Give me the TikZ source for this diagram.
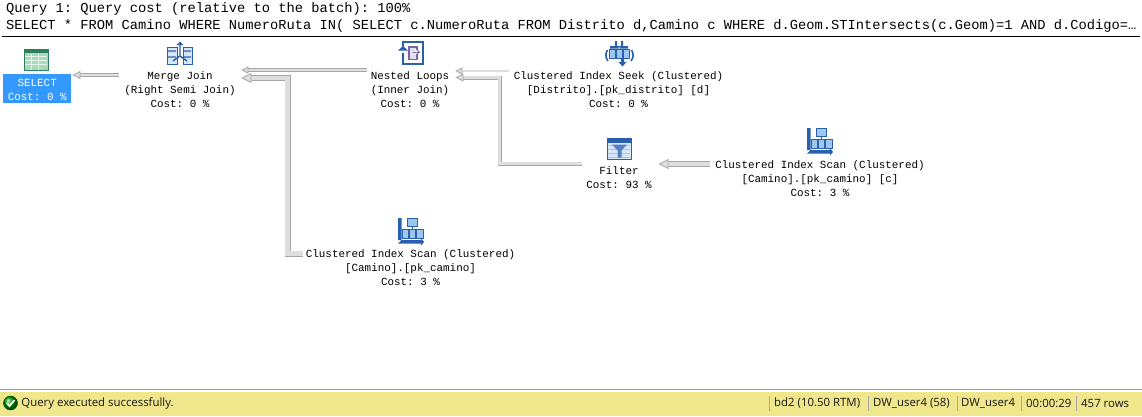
\documentclass[tikz,border=0pt]{standalone}
\usepackage{fontspec}
\setmainfont{Open Sans}
\newfontfamily\planfamily{Liberation Mono}
\usetikzlibrary{arrows.meta,positioning,calc}
\frenchspacing
\definecolor{flowedge}{HTML}{A6A6A6}
\definecolor{flowfill}{HTML}{DEDEDE}
\definecolor{selectblue}{HTML}{3399FF}
\definecolor{barkhaki}{HTML}{F0E68C}
\definecolor{iconblue}{HTML}{2A5FB0}
\definecolor{iconlight}{HTML}{9CC8EE}
\definecolor{icongreen}{HTML}{2F7F5F}
\definecolor{iconmint}{HTML}{A9D9BB}
\definecolor{iconpurple}{HTML}{7A64A8}
\tikzset{
    planop/.style={anchor=north, align=center, inner sep=0pt, execute at begin node=\strut, font=\planfamily\fontsize{10.9}{13.7}\selectfont},
    selectop/.style={planop, anchor=north west, fill=selectblue, text=white, minimum width=68pt},
    header/.style={anchor=west, inner sep=0pt, font=\planfamily\fontsize{13.75}{16}\selectfont},
    status/.style={anchor=west, inner sep=0pt, font=\fontsize{11.4}{14}\selectfont, text=black!90},
    barsep/.style={draw=black!35, line width=0.8pt},
    flow/.style={draw=flowedge, line width=0.8pt, double=flowfill, double distance=#1, line join=miter},
    tipin/.style={-{Triangle[length=#1, width=#1, fill=flowfill, color=flowedge, line width=0.8pt]}},
    box/.style={draw=iconblue, fill=iconlight, line width=1pt},
    scanicon/.pic={
        \fill[iconblue] (-13,-13) rectangle (-9.5,9) -- (10,9) -- (10,7) -- (13,11) -- (10,14.5) -- (10,12.5) -- (-13,12.5) -- cycle;
        \draw[box] (-4,-13) rectangle (6,-5);
        \draw[iconblue, line width=1pt] (1,-5) -- (1,-2);
        \draw[box] (-9,-2) rectangle (-3,7);
        \draw[box] (-2,-2) rectangle (4,7);
        \draw[box] (5,-2) rectangle (12,7);
    },
    seekicon/.pic={
        \fill[iconblue] (-4,-12) rectangle (-2,-6) (2,-12) rectangle (4,-6) (-9,-7) rectangle (9,-4.5);
        \draw[iconblue, line width=1.6pt] (-11.5,-3) to [bend right=35] (-11,8) (12.5,-3) to [bend left=35] (12,8);
        \draw[box] (-10,-4) rectangle (-4,5);
        \draw[box] (-3,-4) rectangle (3,5);
        \draw[box] (4,-4) rectangle (10,5);
        \fill[yellow!80!green] (0,-5) circle (1);
        \fill[iconblue] (2,5) rectangle (5,9) -- (7.5,9) -- (3.5,13.5) -- (-0.5,9) -- (2,9) -- cycle;
    },
    mergeicon/.pic={
        \draw[box, fill=iconlight!40] (-13,-6) rectangle (-3,11);
        \draw[box, fill=iconlight!40] (3,-6) rectangle (12,11);
        \fill[iconblue!70] (-12,-3) rectangle (-4,-1) (-12,3) rectangle (-4,5) (4,-3) rectangle (11,-1) (4,3) rectangle (11,5);
        \draw[iconblue, line width=1.4pt] (0,-9) -- (0,3) (-7,8) -- (0,3) -- (7,8);
        \fill[iconblue] (-3.5,-8) -- (0,-11.5) -- (3.5,-8) -- cycle;
    },
    loopicon/.pic={
        \draw[iconblue, line width=1.8pt] (-7,-4) -- (-7,-11) -- (13,-11) -- (13,11) -- (-7,11) -- (-7,0);
        \fill[iconblue] (-12,-2.5) -- (-7,-7) -- (-2,-2.5) -- cycle;
        \draw[iconpurple, fill=iconpurple!20, line width=1.8pt] (-1,-6) rectangle (7,6.5);
        \fill[white] (5,-3) rectangle (9.5,1);
        \draw[iconpurple, line width=0.9pt, ->] (3,-1) -- (10,-1);
    },
    filtericon/.pic={
        \fill[iconlight!40] (-12,-10) rectangle (12,11);
        \fill[iconblue] (-12,-10) rectangle (12,-6);
        \draw[iconblue, line width=0.8pt] (-12,-10) rectangle (12,11);
        \foreach \row in {-3,1,5,9}
            \draw[iconlight, line width=1.2pt] (-11,\row) -- (11,\row);
        \fill[iconblue!80] (-7,-4) -- (8,-4) -- (2.5,2) -- (2.5,9) -- (-1.5,9) -- (-1.5,2) -- cycle;
    },
    tableicon/.pic={
        \fill[iconmint] (-12,-10) rectangle (12,11);
        \fill[icongreen] (-12,-10) rectangle (12,-7);
        \draw[icongreen, line width=0.6pt] (-12,-10) rectangle (12,11);
        \foreach \row in {-3,1,5}
            \draw[white!70!iconmint, line width=0.8pt] (-11,\row) -- (11,\row);
        \foreach \col in {-5,2}
            \draw[white!70!iconmint, line width=0.8pt] (\col,-6) -- (\col,10);
    }
}

\begin{document}
\begin{tikzpicture}[x=1pt, y=-1pt]
    \useasboundingbox[fill=white] (0,0) rectangle (1142,416);

    % Query header
    \node[header] (query) at (6,9) {Query 1: Query cost (relative to the batch): 100\%};
    \node[header] (sql) at (6,26) {SELECT * FROM Camino WHERE NumeroRuta IN( SELECT c.NumeroRuta FROM Distrito d,Camino c WHERE d.Geom.STIntersects(c.Geom)=1 AND d.Codigo=…};
    \draw[black, line width=1pt] (2,36) -- (1140,36);

    % Plan operators
    \node[selectop] (select) at (3,74) {\rule{0pt}{12pt}SELECT\\[0.8pt]Cost: 0 \%\par\vspace{-2pt}};
    \node[planop] (merge) at (180,71.5) {Merge Join\\(Right Semi Join)\\Cost: 0 \%};
    \node[planop] (loops) at (410,71.5) {Nested Loops\\(Inner Join)\\Cost: 0 \%};
    \node[planop] (seek) at (618.5,71.5) {Clustered Index Seek (Clustered)\\{[}Distrito{]}.{[}pk\_distrito{]} {[}d{]}\\Cost: 0 \%};
    \node[planop] (filter) at (619,166.5) {Filter\\Cost: 93 \%};
    \node[planop] (scanc) at (820,160.5) {Clustered Index Scan (Clustered)\\{[}Camino{]}.{[}pk\_camino{]} {[}c{]}\\Cost: 3 \%};
    \node[planop] (scan) at (410.5,249.5) {Clustered Index Scan (Clustered)\\{[}Camino{]}.{[}pk\_camino{]}\\Cost: 3 \%};

    % Icons
    \pic at (36,59.5) {tableicon};
    \pic at (180,53) {mergeicon};
    \pic at (410,53) {loopicon};
    \pic at (619,53) {seekicon};
    \pic at (619,148.5) {filtericon};
    \pic at (820,141) {scanicon};
    \pic at (411,231) {scanicon};

    % Connectors
    \draw[flow=2.6pt, tipin=8pt] ([xshift=-5.5pt,yshift=-3.5pt]merge.north west) -- ([xshift=1pt,yshift=-1pt]select.north east);
    \draw[flow=1.6pt, tipin=7pt] ([xshift=-4pt,yshift=1.5pt]loops.north west) -- ([xshift=5.5pt,yshift=1.5pt]merge.north east);
    \draw[flow=4.4pt, tipin=10pt] ([xshift=-3pt,yshift=-4pt]scan.north west) -- ++(-15,0) |- ([xshift=5.5pt,yshift=-6.5pt]merge.north east);
    \draw[flow=1.2pt, tipin=7pt] ([xshift=-5pt,yshift=0.5pt]seek.north west) -- ([xshift=6pt,yshift=0.5pt]loops.north east);
    \draw[flow=2.4pt, tipin=8pt] ([xshift=-4.5pt,yshift=3pt]filter.north west) -- ++(-82,0) |- ([xshift=6pt,yshift=-6pt]loops.north east);
    \draw[flow=4.2pt, tipin=10pt] ([xshift=-5.5pt,yshift=-3.5pt]scanc.north west) -- ([xshift=6.5pt,yshift=2.5pt]filter.north east);

    % Status bar
    \fill[black!38] (0,389) rectangle (1142,390);
    \fill[barkhaki] (0,392) rectangle (1142,416);
    \node[circle, ball color=green!60!black, draw=green!30!black, line width=0.5pt, minimum size=14pt, inner sep=0pt] (okmark) at (10.5,403) {};
    \draw[white, line width=1.8pt] ([shift={(-3.5,0)}]okmark.center) -- ([shift={(-1,3)}]okmark.center) -- ([shift={(4,-3)}]okmark.center);
    \node[status, right=3.5pt of okmark] (message) {Query executed successfully.};
    \node[status] (server) at (774,403.5) {bd2 (10.50 RTM)};
    \node[status] (session) at (873,403.5) {DW\_user4 (58)};
    \node[status] (login) at (961,403.5) {DW\_user4};
    \node[status] (elapsed) at (1026,403.5) {00:00:29};
    \node[status] (rows) at (1081,403.5) {457 rows};
    \foreach \sepx in {769,868,957,1021,1076}
        \draw[barsep] (\sepx,396) -- (\sepx,411);
\end{tikzpicture}
\end{document}
